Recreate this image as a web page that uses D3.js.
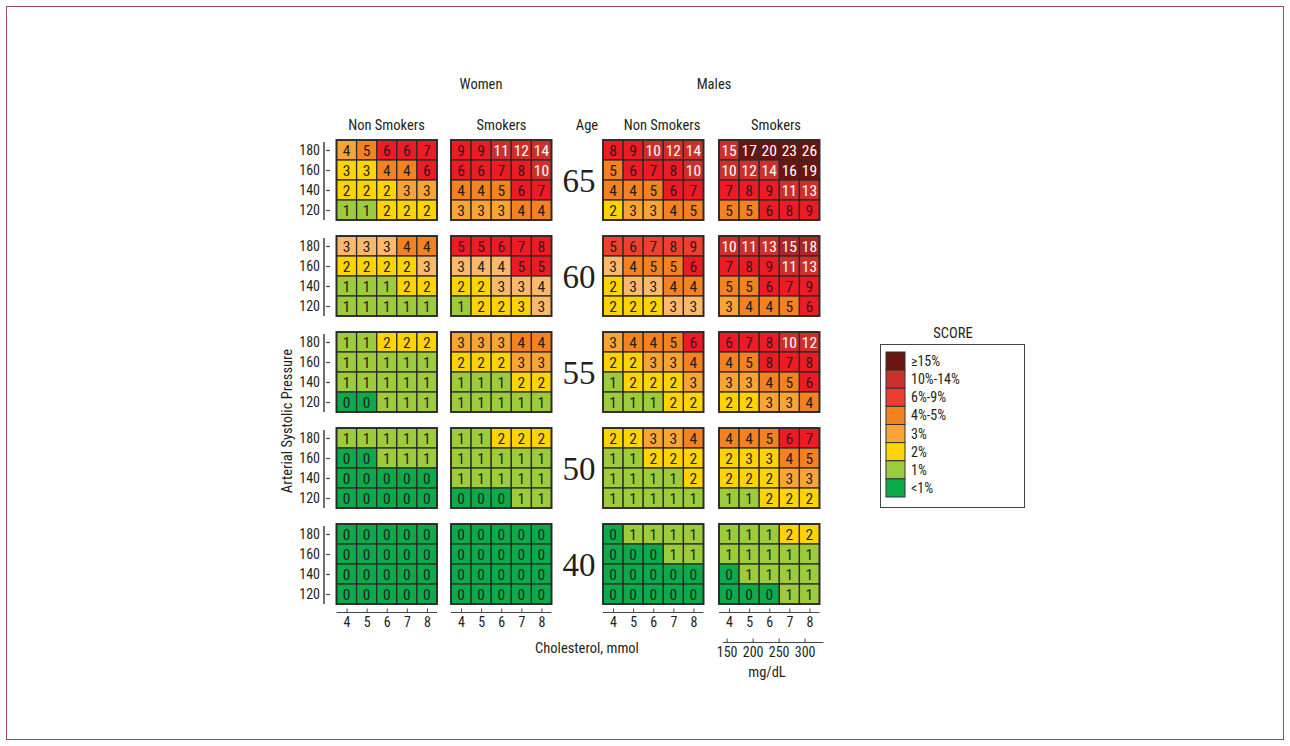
<!DOCTYPE html>
<html>
<head>
<meta charset="utf-8">
<script src="https://cdn.jsdelivr.net/npm/d3@7"></script>
<style>
  html, body { margin: 0; padding: 0; background: #fff; }
  svg { display: block; }
  text { font-family: "Liberation Sans Narrow", "Roboto Condensed", "Arial Narrow", "Liberation Sans", sans-serif; fill: #231f20; }
</style>
</head>
<body>
<svg id="chart" width="1290" height="746"></svg>
<script>
// ---------------- DATA ----------------
const ages = [65, 60, 55, 50, 40];
const sbp = [180, 160, 140, 120];
const cholMmol = [4, 5, 6, 7, 8];
const cholMgdl = [150, 200, 250, 300];
const groups = ["womenNonSmokers", "womenSmokers", "menNonSmokers", "menSmokers"];
const groupLabels = ["Non Smokers", "Smokers", "Non Smokers", "Smokers"];
const sexLabels = ["Women", "Males"];

// rows: SBP 180,160,140,120 ; columns: cholesterol 4..8
const womenNonSmokers = [
  [[4,5,6,6,7],[3,3,4,4,6],[2,2,2,3,3],[1,1,2,2,2]],
  [[3,3,3,4,4],[2,2,2,2,3],[1,1,1,2,2],[1,1,1,1,1]],
  [[1,1,2,2,2],[1,1,1,1,1],[1,1,1,1,1],[0,0,1,1,1]],
  [[1,1,1,1,1],[0,0,1,1,1],[0,0,0,0,0],[0,0,0,0,0]],
  [[0,0,0,0,0],[0,0,0,0,0],[0,0,0,0,0],[0,0,0,0,0]]
];
const womenSmokers = [
  [[9,9,11,12,14],[6,6,7,8,10],[4,4,5,6,7],[3,3,3,4,4]],
  [[5,5,6,7,8],[3,4,4,5,5],[2,2,3,3,4],[1,2,2,3,3]],
  [[3,3,3,4,4],[2,2,2,3,3],[1,1,1,2,2],[1,1,1,1,1]],
  [[1,1,2,2,2],[1,1,1,1,1],[1,1,1,1,1],[0,0,0,1,1]],
  [[0,0,0,0,0],[0,0,0,0,0],[0,0,0,0,0],[0,0,0,0,0]]
];
const menNonSmokers = [
  [[8,9,10,12,14],[5,6,7,8,10],[4,4,5,6,7],[2,3,3,4,5]],
  [[5,6,7,8,9],[3,4,5,5,6],[2,3,3,4,4],[2,2,2,3,3]],
  [[3,4,4,5,6],[2,2,3,3,4],[1,2,2,2,3],[1,1,1,2,2]],
  [[2,2,3,3,4],[1,1,2,2,2],[1,1,1,1,2],[1,1,1,1,1]],
  [[0,1,1,1,1],[0,0,0,1,1],[0,0,0,0,0],[0,0,0,0,0]]
];
const menSmokers = [
  [[15,17,20,23,26],[10,12,14,16,19],[7,8,9,11,13],[5,5,6,8,9]],
  [[10,11,13,15,18],[7,8,9,11,13],[5,5,6,7,9],[3,4,4,5,6]],
  [[6,7,8,10,12],[4,5,8,7,8],[3,3,4,5,6],[2,2,3,3,4]],
  [[4,4,5,6,7],[2,3,3,4,5],[2,2,2,3,3],[1,1,2,2,2]],
  [[1,1,1,2,2],[1,1,1,1,1],[0,1,1,1,1],[0,0,0,1,1]]
];

// legend categories
const legendLabels = ["\u226515%", "10%-14%", "6%-9%", "4%-5%", "3%", "2%", "1%", "<1%"];
const legendClasses = ["c15", "c10", "c6", "c4", "c3", "c2", "c1", "c0"];

// cells whose printed colour differs from the default class of their value
// [group, ageIndex, row, col, class]
const classOverrides = [
  ["womenNonSmokers",0,0,0,"c3"], ["womenNonSmokers",0,1,0,"c2"], ["womenNonSmokers",0,1,1,"c2"],
  ["menSmokers",0,0,0,"c10"],
  ["womenNonSmokers",1,0,0,"c3p"], ["womenNonSmokers",1,0,1,"c3p"], ["womenNonSmokers",1,0,2,"c3p"], ["womenNonSmokers",1,1,4,"c3p"],
  ["womenSmokers",1,0,0,"c6"], ["womenSmokers",1,0,1,"c6"],
  ["womenSmokers",1,1,0,"c3p"], ["womenSmokers",1,1,1,"c3p"], ["womenSmokers",1,1,2,"c3p"], ["womenSmokers",1,1,3,"c6"], ["womenSmokers",1,1,4,"c6"],
  ["womenSmokers",1,2,2,"c3p"], ["womenSmokers",1,2,3,"c3p"], ["womenSmokers",1,2,4,"c3p"],
  ["womenSmokers",1,3,3,"c2"], ["womenSmokers",1,3,4,"c3p"],
  ["menNonSmokers",1,0,0,"c6b"], ["menNonSmokers",1,0,1,"c6b"], ["menNonSmokers",1,0,2,"c6b"], ["menNonSmokers",1,0,3,"c6b"], ["menNonSmokers",1,0,4,"c6b"],
  ["menNonSmokers",1,1,0,"c3p"], ["menNonSmokers",1,2,1,"c3p"], ["menNonSmokers",1,2,2,"c3p"], ["menNonSmokers",1,3,3,"c3p"], ["menNonSmokers",1,3,4,"c3p"],
  ["menSmokers",1,0,3,"c10b"], ["menSmokers",1,0,4,"c10b"],
  ["menSmokers",3,1,1,"c2"], ["menSmokers",3,1,2,"c2"]
];

// ---------------- STYLES ----------------
const palette = {
  c0: "#0daa4b", c1: "#9dcb3c", c2: "#ffd400", c3: "#f8a535", c3p: "#fcb96b",
  c4: "#f58220", c6: "#ed1c24", c6b: "#ef3f2d", c10: "#cc302c", c10b: "#a9262a", c15: "#6a150f"
};
const legendPalette = { c15: "#6a150f", c10: "#cc302c", c6: "#ef3d2b", c4: "#f58220", c3: "#f8a535", c2: "#ffd400", c1: "#9dcb3c", c0: "#0daa4b" };
const whiteText = new Set(["c10", "c10b", "c15"]);

function defaultClass(v) {
  if (v >= 15) return "c15";
  if (v >= 10) return "c10";
  if (v >= 6) return "c6";
  if (v >= 4) return "c4";
  if (v === 3) return "c3";
  if (v === 2) return "c2";
  if (v === 1) return "c1";
  return "c0";
}

const dataByGroup = { womenNonSmokers, womenSmokers, menNonSmokers, menSmokers };
const overrideMap = new Map(classOverrides.map(d => [d.slice(0, 4).join("|"), d[4]]));

// ---------------- LAYOUT ----------------
const svg = d3.select("#chart");
const panelW = 100.5, panelH = 80;
const panelX = d3.scaleOrdinal().domain(groups).range([336.5, 451, 603, 719]);
const blockY = d3.scalePoint().domain(ages).range([140, 524]);
const xCell = d3.scaleBand().domain(cholMmol).range([0, panelW]);
const yCell = d3.scaleBand().domain(sbp).range([0, panelH]);
const tickFont = "'Liberation Sans Narrow', 'Roboto Condensed', sans-serif";

// outer frame
svg.append("rect").attr("x", 6.5).attr("y", 6.5).attr("width", 1277).attr("height", 733)
  .attr("fill", "none").attr("stroke", "#9b4869").attr("stroke-width", 1);

// headers
const headerX = [386.5, 501.5, 662, 776];
svg.append("text").attr("x", 481).attr("y", 89).attr("text-anchor", "middle").attr("font-size", 14.5).text(sexLabels[0]);
svg.append("text").attr("x", 714).attr("y", 89).attr("text-anchor", "middle").attr("font-size", 14.5).text(sexLabels[1]);
groups.forEach((g, i) => {
  svg.append("text").attr("x", headerX[i]).attr("y", 130).attr("text-anchor", "middle").attr("font-size", 14.5).text(groupLabels[i]);
});
svg.append("text").attr("x", 587).attr("y", 130).attr("text-anchor", "middle").attr("font-size", 14.5).text("Age");

// blocks
ages.forEach((age, ai) => {
  const by = blockY(age);
  // y axis
  const yAxis = d3.axisLeft(d3.scalePoint().domain(sbp).range([by + yCell.bandwidth() / 2, by + panelH - yCell.bandwidth() / 2]))
    .tickSizeInner(-6).tickSizeOuter(0).tickPadding(4);
  const ya = svg.append("g").attr("transform", "translate(324,0)").call(yAxis);
  ya.select(".domain").remove();
  ya.append("line").attr("x1", 0).attr("x2", 0).attr("y1", by + 2).attr("y2", by + panelH).attr("stroke", "#6d6e71").attr("stroke-width", 2);
  ya.selectAll(".tick line").attr("stroke", "#444").attr("stroke-width", 1.2).attr("x1", 2);
  ya.selectAll(".tick text").attr("font-size", 14).attr("fill", "#231f20").style("font-family", tickFont);

  // age label
  svg.append("text").attr("x", 579).attr("y", by + panelH / 2).attr("dy", "0.36em")
    .attr("text-anchor", "middle").attr("font-size", 33)
    .style("font-family", "'Liberation Serif', 'DejaVu Serif', serif").text(age);

  groups.forEach(g => {
    const grid = dataByGroup[g][ai];
    const cells = [];
    grid.forEach((row, ri) => row.forEach((v, ci) => {
      const cls = overrideMap.get([g, ai, ri, ci].join("|")) || defaultClass(v);
      cells.push({ v, ri, ci, cls });
    }));
    const gp = svg.append("g").attr("transform", `translate(${panelX(g)},${by})`);
    gp.selectAll("rect.cell").data(cells).join("rect").attr("class", "cell")
      .attr("x", d => xCell(cholMmol[d.ci])).attr("y", d => yCell(sbp[d.ri]))
      .attr("width", xCell.bandwidth()).attr("height", yCell.bandwidth())
      .attr("fill", d => palette[d.cls]).attr("stroke", "#2b2b2b").attr("stroke-width", 1.3);
    gp.selectAll("text.val").data(cells).join("text").attr("class", "val")
      .attr("x", d => xCell(cholMmol[d.ci]) + xCell.bandwidth() / 2)
      .attr("y", d => yCell(sbp[d.ri]) + yCell.bandwidth() / 2).attr("dy", "0.37em")
      .attr("text-anchor", "middle").attr("font-size", 15.5)
      .style("fill", d => whiteText.has(d.cls) ? "#ffffff" : "#231f20")
      .text(d => d.v);
    gp.append("rect").attr("width", panelW).attr("height", panelH).attr("fill", "none")
      .attr("stroke", "#2b2b2b").attr("stroke-width", 1.8);
  });
});

// bottom cholesterol axes
const axisY = 612.5;
groups.forEach(g => {
  const xs = d3.scalePoint().domain(cholMmol).range([panelX(g) + xCell.bandwidth() / 2, panelX(g) + panelW - xCell.bandwidth() / 2]);
  const ax = svg.append("g").attr("transform", `translate(0,${axisY})`)
    .call(d3.axisBottom(xs).tickSizeInner(-4).tickSizeOuter(0).tickPadding(5));
  ax.select(".domain").attr("d", `M${panelX(g)},0H${panelX(g) + panelW}`).attr("stroke", "#444").attr("stroke-width", 1.2);
  ax.selectAll(".tick line").attr("stroke", "#444");
  ax.selectAll(".tick text").attr("font-size", 14).attr("fill", "#231f20").style("font-family", tickFont);
});

// mg/dL axis under men smokers
{
  const g = "menSmokers";
  const mmolScale = d3.scaleLinear().domain([4, 8]).range([panelX(g) + xCell.bandwidth() / 2, panelX(g) + panelW - xCell.bandwidth() / 2]);
  const mgScale = d3.scaleLinear().domain([4 * 38.67, 8 * 38.67]).range(mmolScale.range());
  const ax = svg.append("g").attr("transform", "translate(0,642.5)")
    .call(d3.axisBottom(mgScale).tickValues(cholMgdl).tickSizeInner(-4).tickSizeOuter(0).tickPadding(5));
  ax.select(".domain").attr("d", `M${panelX(g) + 4},0H${panelX(g) + panelW + 4}`).attr("stroke", "#444").attr("stroke-width", 1.2);
  ax.selectAll(".tick line").attr("stroke", "#444");
  ax.selectAll(".tick text").attr("font-size", 14).attr("fill", "#231f20").style("font-family", tickFont);
  svg.append("text").attr("x", 767).attr("y", 677).attr("text-anchor", "middle").attr("font-size", 14.5).text("mg/dL");
}

svg.append("text").attr("x", 587).attr("y", 653).attr("text-anchor", "middle").attr("font-size", 14.5).text("Cholesterol, mmol");

// y title
svg.append("text").attr("transform", "translate(292,421) rotate(-90)").attr("text-anchor", "middle")
  .attr("font-size", 14.5).text("Arterial Systolic Pressure");

// legend
const lg = svg.append("g");
lg.append("text").attr("x", 953).attr("y", 338).attr("text-anchor", "middle").attr("font-size", 14.5).text("SCORE");
lg.append("rect").attr("x", 880.5).attr("y", 344.5).attr("width", 144).attr("height", 163)
  .attr("fill", "#fff").attr("stroke", "#444").attr("stroke-width", 1);
const ly = d3.scaleBand().domain(legendClasses).range([352, 497]);
lg.selectAll("rect.sw").data(legendClasses).join("rect").attr("class", "sw")
  .attr("x", 886).attr("y", d => ly(d)).attr("width", 19).attr("height", ly.bandwidth())
  .attr("fill", d => legendPalette[d]).attr("stroke", "#333").attr("stroke-width", 1);
lg.selectAll("text.lt").data(legendClasses).join("text").attr("class", "lt")
  .attr("x", 911).attr("y", d => ly(d) + ly.bandwidth() / 2).attr("dy", "0.36em")
  .attr("font-size", 14).text((d, i) => legendLabels[i]);
</script>
</body>
</html>
